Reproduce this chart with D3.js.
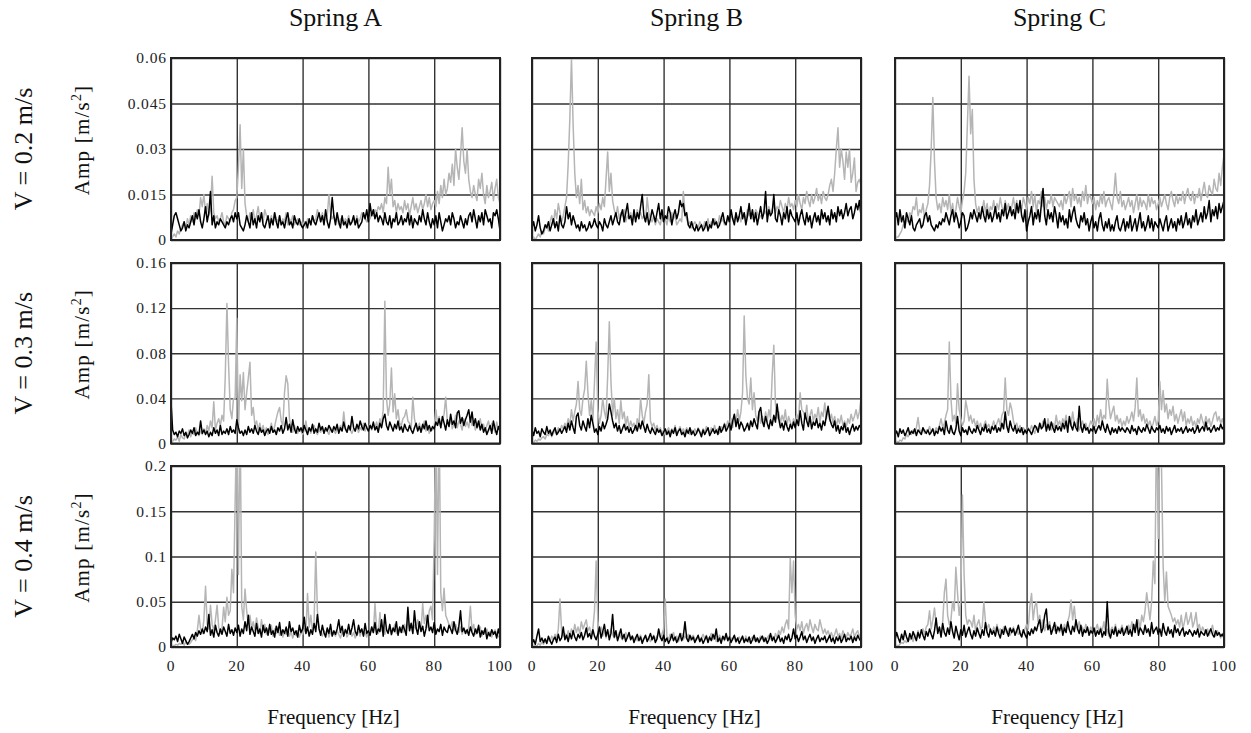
<!DOCTYPE html>
<html><head><meta charset="utf-8">
<script src="https://cdn.jsdelivr.net/npm/d3@7"></script>
<style>body{margin:0;background:#fff}svg{display:block}</style>
</head><body>
<script>
// ---- DATA (amplitudes in units of 0.001 m/s^2, sampled every 0.5 Hz from 0 to 100 Hz) ----
const springs = ["Spring A", "Spring B", "Spring C"];
const speeds = ["V = 0.2 m/s", "V = 0.3 m/s", "V = 0.4 m/s"];
const xTicks = [0, 20, 40, 60, 80, 100];
const yMaxes = [60, 160, 200];
const yTicks = [[0, 15, 30, 45, 60], [0, 40, 80, 120, 160], [0, 50, 100, 150, 200]];
const yTickLabels = [["0", "0.015", "0.03", "0.045", "0.06"], ["0", "0.04", "0.08", "0.12", "0.16"], ["0", "0.05", "0.1", "0.15", "0.2"]];
const freqStep = 0.5;

// Row 1 (V = 0.2 m/s)
const a1Black = [2,5,8,9,7,5,3,4,6,3,5,4,6,8,5,9,7,10,6,4, 7,11,6,9,16,5,8,4,6,5,7,6,5,4,6,5,7,8,6,9, 7,9,5,4,3,5,8,6,4,9,5,7,4,8,6,9,5,4,6,8, 4,7,5,9,6,4,8,5,6,4,7,9,5,6,4,8,6,5,7,5, 4,5,6,4,7,5,8,6,5,7,9,6,8,5,10,6,4,7,14,8, 5,9,6,4,8,5,6,4,7,5,6,8,5,7,4,5,6,9,7,10, 6,12,8,10,7,9,6,8,7,5,9,6,5,8,4,7,6,9,5,6, 8,5,7,6,9,5,8,4,7,6,5,8,6,10,7,5,9,6,4,7, 5,8,4,9,6,3,5,7,6,8,5,9,7,4,6,5,8,6,4,7, 5,8,9,6,10,7,4,8,6,9,5,10,8,6,7,4,9,8,10,7,3];
const a1Gray = [0,1,2,1,3,2,4,5,6,4,7,5,8,6,9,7,10,8,14,11, 15,9,12,8,10,21,9,7,8,6,7,9,6,5,8,7,6,9,10,13, 14,24,38,17,30,12,8,6,9,7,10,6,8,11,7,9,6,10,8,7, 6,8,5,9,7,6,8,5,7,6,9,5,7,6,8,5,6,7,5,6, 5,6,4,7,6,5,8,6,7,10,8,6,9,6,7,8,15,9,7,8, 6,8,5,7,6,5,7,6,8,5,6,7,5,8,6,7,9,8,7,6, 8,7,9,8,10,9,11,10,12,9,14,12,24,15,20,11,13,9,12,10, 11,9,13,10,12,8,11,14,10,12,9,11,13,10,12,15,11,14,10,12, 13,11,16,12,18,14,20,15,17,22,19,25,18,30,24,20,28,37,26,22, 30,20,16,14,18,15,13,20,17,22,15,12,18,14,16,19,13,17,20,14,12];
const b1Black = [4,6,3,5,8,4,2,3,5,4,6,3,5,7,4,6,3,8,5,4, 6,11,7,9,5,8,6,4,5,3,6,4,5,3,4,6,4,5,7,5, 4,6,5,3,7,5,4,6,8,5,7,9,6,5,8,10,6,9,12,7, 8,5,10,6,9,7,11,15,8,6,9,5,7,10,8,6,9,12,7,10, 6,8,7,11,9,5,8,10,7,9,13,11,12,8,9,5,4,6,4,3, 5,3,4,5,3,4,6,3,5,4,7,5,6,4,5,7,9,6,5,8, 6,10,7,5,9,6,8,11,7,9,5,8,12,7,10,6,9,5,8,11, 7,9,16,6,10,8,9,15,7,6,10,8,5,9,7,11,6,10,8,7, 6,9,5,8,10,7,5,9,6,8,4,7,9,6,8,5,10,7,9,6, 8,5,10,7,9,6,11,8,10,7,9,12,8,10,11,7,9,12,10,13,8];
const b1Gray = [0,1,0,1,2,1,3,2,4,5,3,6,8,5,10,7,12,9,6,8, 11,14,25,40,60,38,22,14,18,12,20,10,13,9,11,8,10,9,8,11, 9,12,10,14,11,20,29,16,22,13,10,8,11,7,9,8,10,6,8,7, 9,6,8,7,10,8,9,7,8,6,14,9,7,6,8,5,7,6,5,8, 6,7,5,8,6,9,7,8,5,6,7,6,16,9,7,5,6,4,5,6, 5,4,6,5,4,6,5,7,4,6,5,7,6,5,8,6,7,5,6,7, 6,8,7,6,9,7,8,6,9,8,7,10,8,9,7,8,10,9,7,8, 8,10,9,8,11,9,10,12,9,11,10,13,11,9,12,10,14,11,12,10, 13,11,15,12,10,14,12,16,13,11,15,12,14,17,13,15,12,16,14,13, 15,18,20,16,22,30,37,24,30,26,20,29,24,30,19,22,27,16,19,20,18];
const c1Black = [7,9,5,10,6,8,4,9,7,5,8,4,3,5,6,7,4,5,8,9, 6,8,5,4,3,5,4,6,5,7,6,9,7,5,8,10,6,9,7,4, 6,9,8,3,4,6,9,7,10,8,6,9,7,11,8,6,10,7,9,6, 8,11,7,9,6,10,8,12,7,9,11,8,10,7,12,9,13,8,6,10, 3,6,8,11,5,9,7,10,6,12,17,8,5,10,7,9,6,11,8,4, 9,6,8,5,7,4,10,6,9,11,7,5,4,8,6,9,5,7,3,6, 8,4,6,3,7,9,5,3,6,4,7,3,5,3,6,8,4,3,5,7, 3,6,4,8,3,5,7,3,6,9,4,6,3,5,8,4,7,3,6,5, 4,7,5,3,6,8,3,5,7,4,6,3,7,5,8,4,6,9,5,7, 4,8,6,10,5,7,9,6,11,7,9,13,6,10,8,11,7,12,9,11,13];
const c1Gray = [0,1,1,2,3,5,4,7,6,9,8,11,10,14,8,10,9,12,7,10, 12,18,30,47,26,14,10,12,9,14,11,13,10,15,9,12,8,10,14,11, 9,13,16,22,38,54,35,43,20,12,9,11,8,10,13,9,12,8,11,10, 13,9,12,10,14,11,9,13,10,12,9,11,14,10,13,9,12,10,14,12, 10,14,12,16,11,15,9,13,12,16,11,14,10,13,12,15,11,14,13,12, 11,13,10,15,12,14,16,11,17,13,15,12,14,11,16,13,18,12,15,14, 12,14,10,13,11,15,12,16,11,13,14,12,10,15,22,14,12,16,11,13, 10,12,14,11,13,9,12,15,10,14,11,13,12,10,15,11,14,12,13,10, 12,14,11,13,15,12,10,14,16,13,11,15,12,14,13,16,12,15,17,14, 13,16,12,15,14,17,13,16,19,15,14,18,16,15,20,17,16,22,18,24,28];

// Row 2 (V = 0.3 m/s)
const a2Black = [37,12,8,10,6,11,9,13,7,10,5,8,12,9,14,7,10,8,20,9, 12,8,11,6,10,7,14,9,12,7,16,8,11,9,13,8,15,10,12,9, 21,14,9,11,7,12,8,15,10,13,9,16,11,8,14,10,12,7,11,13, 9,15,10,12,8,14,11,16,9,13,23,12,17,10,21,13,9,15,11,14, 10,16,12,8,14,11,17,9,13,10,18,12,15,9,14,11,16,13,10,15, 12,17,9,14,11,19,13,10,16,12,24,14,11,17,13,20,15,12,18,14, 11,16,13,19,12,15,10,18,14,22,26,16,12,19,15,11,17,13,20,12, 15,10,17,13,11,16,12,9,14,18,11,15,10,17,13,20,12,16,11,15, 13,19,16,22,14,24,18,12,21,15,26,17,20,14,27,29,18,23,16,21, 25,30,19,28,16,22,14,20,12,17,10,14,8,12,16,9,20,13,8,15,11];
const a2Gray = [0,2,4,3,6,2,8,5,4,9,7,12,6,10,8,14,9,7,11,8, 13,9,16,11,20,14,37,12,18,22,16,25,20,60,124,70,30,22,40,40, 111,10,61,38,63,30,45,58,72,25,32,16,20,12,18,10,16,9,14,8, 12,18,10,15,22,28,32,20,16,45,60,53,22,14,10,16,12,9,13,11, 8,12,20,10,14,9,13,16,11,8,12,10,15,9,13,11,8,14,10,12, 9,13,11,16,12,28,14,10,15,12,9,13,11,16,10,14,12,18,11,15, 13,17,12,16,14,19,13,22,16,30,126,40,25,35,67,28,44,22,30,18, 16,22,24,30,20,18,13,41,22,15,12,18,10,14,20,11,16,9,13,12, 15,30,18,24,14,20,26,41,19,16,22,13,18,25,14,20,17,12,22,15, 19,14,23,16,20,12,18,15,22,13,17,11,16,20,12,18,14,10,19,13,15];
const b2Black = [12,7,14,9,11,6,13,10,8,15,9,12,7,11,14,8,10,13,9,12, 15,10,18,12,20,14,9,24,27,16,12,20,15,11,22,14,25,18,10,13, 8,15,11,19,13,17,22,35,28,20,14,18,11,16,9,13,17,12,15,10, 14,9,12,16,11,18,13,20,15,10,17,12,9,14,11,8,13,10,12,7, 10,13,8,11,6,12,9,14,7,11,13,8,10,6,12,9,14,8,11,7, 9,13,10,6,12,8,11,14,7,10,13,9,12,8,15,10,13,17,11,14, 18,12,20,26,15,22,13,19,16,11,14,18,12,20,15,22,17,13,28,32, 20,15,24,18,13,21,16,25,19,35,22,14,18,12,20,15,11,17,13,19, 14,21,16,29,18,12,27,20,15,24,13,19,16,22,14,18,12,20,16,25, 33,22,17,14,20,11,16,9,15,12,18,10,14,8,13,17,11,15,12,16,14];
const b2Gray = [0,1,3,2,4,3,5,6,4,8,7,10,6,9,12,8,14,11,16,13, 18,14,22,16,30,20,28,35,55,30,25,40,48,73,45,25,38,20,55,90, 30,18,25,40,28,22,60,108,55,25,40,22,30,18,38,22,28,16,24,14, 20,15,18,12,22,16,40,25,18,28,35,61,20,15,18,12,16,10,14,9, 12,8,11,14,9,13,10,16,8,12,15,10,13,9,14,11,8,12,10,13, 9,14,11,8,13,10,15,12,9,14,11,16,10,13,9,15,12,18,14,20, 16,22,14,25,18,30,20,28,45,113,60,40,35,58,30,45,25,20,28,18, 24,18,28,20,30,22,60,87,35,22,28,18,25,20,30,16,24,19,14,22, 18,26,20,45,30,28,22,34,18,25,30,20,26,22,32,19,28,24,36,22, 30,20,26,18,24,15,22,18,25,16,20,14,22,18,26,20,24,30,22,28,40];
const c2Black = [8,11,6,13,9,12,7,10,14,8,11,9,13,7,12,10,8,14,11,9, 12,8,10,13,7,11,9,15,11,14,8,20,12,9,16,10,8,13,24,11, 7,14,10,12,8,15,11,9,13,10,16,12,8,14,11,17,10,13,9,15, 12,16,10,14,11,18,13,28,15,10,20,14,11,16,9,13,10,14,8,12, 9,13,11,8,12,16,14,10,18,13,15,22,11,17,12,19,14,10,16,12, 15,11,18,13,20,10,24,16,12,19,14,11,33,15,10,17,12,14,9,13, 11,15,9,13,16,12,20,14,10,17,12,8,14,10,13,9,15,11,14,12, 10,14,12,9,16,11,13,8,15,12,10,14,11,17,13,9,15,12,10,14, 12,16,10,13,9,15,11,14,8,12,16,10,13,11,14,9,12,15,10,13, 11,14,9,12,16,10,13,15,11,19,12,14,10,13,16,11,14,12,17,13,15];
const c2Gray = [0,2,1,3,2,5,4,8,6,10,8,12,9,14,23,12,10,14,9,12, 11,15,10,13,9,14,12,16,22,14,18,25,30,90,40,20,25,18,53,30, 22,16,20,38,30,20,25,18,22,15,20,14,18,12,16,20,14,17,12,15, 20,14,18,22,16,25,28,58,30,25,36,30,20,15,18,12,16,10,14,12, 10,14,11,16,12,9,15,12,18,14,20,16,13,22,15,12,18,14,25,16, 20,15,22,18,25,14,20,16,28,18,15,22,12,16,20,14,18,12,15,20, 17,22,15,25,18,30,20,25,22,57,35,22,28,33,20,25,18,22,15,20, 16,24,18,22,28,20,32,58,24,30,20,26,18,22,16,20,14,18,24,16, 20,55,30,47,28,35,22,30,25,33,20,26,18,24,30,20,28,16,22,18, 24,16,20,14,22,18,26,20,16,24,18,22,15,20,26,28,20,24,18,22,16];

// Row 3 (V = 0.4 m/s)
const a3Black = [5,10,8,12,6,14,9,4,11,7,3,6,10,14,9,16,12,18,14,20, 15,22,17,36,13,19,11,24,16,12,20,14,22,17,12,25,15,19,13,21, 16,24,12,20,15,28,18,35,14,22,17,12,26,15,20,11,24,16,21,13, 25,14,18,11,23,16,27,13,19,15,22,12,28,17,21,14,18,11,24,16, 20,33,15,22,12,19,14,26,17,36,20,13,24,16,11,21,15,25,12,18, 14,20,30,16,23,12,19,15,25,14,21,30,17,13,24,16,20,12,26,15, 18,13,22,16,27,14,20,17,30,12,36,19,15,25,14,21,17,28,13,22, 16,24,19,13,44,18,26,15,40,21,14,28,17,23,12,20,35,18,22,16, 27,14,20,17,25,13,22,18,16,24,20,15,28,19,14,23,40,17,21,15, 19,13,22,16,12,20,15,24,11,18,14,21,9,16,12,19,14,17,10,20,12];
const a3Gray = [0,2,1,3,2,4,3,5,2,6,4,3,5,8,10,7,18,35,20,15, 30,67,25,20,46,25,18,30,46,22,15,20,44,28,55,35,40,86,60,160, 260,80,260,45,30,64,40,25,35,20,28,18,32,22,15,30,18,25,14,20, 16,24,12,20,15,22,13,18,11,16,14,20,12,17,10,15,13,18,11,16, 14,20,15,59,22,35,18,28,105,40,20,16,12,18,14,20,11,17,13,15, 12,18,14,10,16,13,20,11,15,18,12,16,10,14,17,12,19,13,16,11, 18,14,22,16,48,20,15,38,18,24,14,20,16,22,13,18,25,15,20,17, 22,16,25,18,30,20,27,15,24,20,30,22,18,48,26,35,22,40,45,30, 120,260,80,260,60,40,65,35,30,25,22,28,18,25,20,16,22,14,20,18, 15,22,45,18,25,14,20,16,22,12,18,15,20,13,17,11,16,19,14,12,10];
const b3Black = [4,8,3,12,20,6,10,5,9,4,12,7,3,8,11,5,14,7,10,22, 8,13,6,15,9,18,11,7,14,10,16,8,13,21,11,15,9,19,12,8, 14,22,10,17,25,12,19,8,15,36,11,18,7,13,20,9,14,6,11,16, 8,12,5,10,14,7,11,4,9,13,6,10,15,8,12,5,9,20,11,7, 13,6,10,4,8,14,7,11,5,9,15,7,12,28,10,6,13,8,11,5, 9,13,6,10,4,8,12,5,11,7,14,9,20,6,10,4,12,8,15,7, 11,5,9,13,6,10,4,8,12,5,9,6,11,4,8,13,6,10,5,9, 12,6,10,4,8,15,7,11,5,9,13,6,10,4,12,8,14,6,10,20, 9,13,6,11,17,8,12,5,10,14,7,11,4,9,13,6,10,8,12,5, 9,13,6,10,4,11,7,12,5,9,14,6,10,8,12,5,11,7,13,9,6];
const b3Gray = [0,1,2,1,4,2,5,3,7,4,9,6,12,8,14,10,20,53,18,12, 15,10,18,12,20,14,25,16,22,15,28,20,25,30,18,22,14,20,40,95, 30,15,22,12,18,10,16,12,20,14,10,13,9,16,11,8,12,16,10,14, 9,12,8,11,7,10,13,6,9,12,8,11,6,10,13,8,12,15,10,14, 20,53,12,8,14,10,16,8,12,6,10,15,8,12,9,14,7,11,13,9, 8,12,6,10,14,9,13,7,11,15,8,12,6,10,13,8,11,7,12,9, 6,10,8,12,5,9,11,7,10,6,12,8,5,9,11,7,10,6,9,12, 8,11,6,10,13,9,12,8,15,10,18,14,22,16,25,30,20,98,60,95, 35,20,25,18,28,15,22,26,18,30,22,16,25,20,18,30,22,15,20,14, 18,12,16,10,14,20,12,15,9,18,13,10,16,12,14,20,11,15,18,12,14];
const c3Black = [8,16,10,5,14,8,18,11,6,15,9,17,12,7,16,10,19,13,8,17, 12,20,14,9,18,32,15,22,11,26,16,12,21,14,28,17,10,23,15,8, 19,13,24,11,17,22,14,9,18,12,21,15,10,19,13,27,16,11,20,14, 18,12,22,15,10,19,14,23,17,12,21,16,20,13,18,24,15,11,19,14, 10,17,13,20,15,22,18,25,30,16,21,35,42,19,24,14,20,27,15,22, 18,25,13,21,16,28,19,14,23,17,30,20,15,24,12,19,16,22,13,18, 15,21,12,18,14,20,11,17,13,50,16,10,19,14,22,12,18,15,21,13, 17,23,14,19,12,25,16,30,13,21,18,14,24,16,20,12,27,15,19,22, 14,20,12,26,17,13,22,15,19,11,24,16,20,13,18,21,12,17,14,19, 16,12,18,14,20,11,17,15,13,19,12,16,20,14,11,18,13,16,12,14,10];
const c3Gray = [0,2,1,3,5,4,7,5,9,8,11,6,14,10,18,12,16,20,14,22, 25,40,20,30,43,25,18,22,15,28,60,75,35,25,30,50,40,88,60,35, 50,168,80,35,25,30,28,22,35,18,25,30,20,22,50,28,20,25,18,15, 22,18,25,16,20,14,22,18,15,20,13,17,22,15,19,14,18,12,16,20, 25,20,45,59,30,45,50,28,35,22,30,18,25,20,28,16,22,18,24,20, 16,22,18,25,20,28,35,52,30,45,25,20,28,18,22,16,25,20,15,22, 18,14,20,25,16,22,18,28,15,20,12,18,22,16,25,14,20,18,24,16, 20,15,24,18,28,20,25,22,30,20,35,28,40,60,45,30,50,95,70,260, 120,260,200,90,50,83,45,40,35,28,32,25,30,22,35,20,28,38,25,30, 38,22,28,38,20,25,16,22,18,15,20,13,18,24,15,12,18,14,10,15,12];

const panelData = [
  [[a1Gray, a1Black], [b1Gray, b1Black], [c1Gray, c1Black]],
  [[a2Gray, a2Black], [b2Gray, b2Black], [c2Gray, c2Black]],
  [[a3Gray, a3Black], [b3Gray, b3Black], [c3Gray, c3Black]]
];

// ---- LAYOUT ----
const W = 1251, H = 733;
const colX = [[171, 500], [532, 861], [895, 1224]];
const rowY = [[58, 240], [263, 443.5], [466, 647]];
const serif = "'Liberation Serif', 'Times New Roman', serif";
const grayColor = "#b5b5b5", gridColor = "#333", frameColor = "#222";

const svg = d3.select("body").append("svg").attr("width", W).attr("height", H);
const defs = svg.append("defs");

function addText(parent, txt, size, opts) {
  const t = parent.append("text").text(txt)
    .attr("font-family", serif).attr("font-size", size).attr("fill", "#111");
  Object.entries(opts || {}).forEach(([k, v]) => t.attr(k, v));
  return t;
}

springs.forEach((s, c) => {
  addText(svg, s, 26, {x: (colX[c][0] + colX[c][1]) / 2, y: 26, "text-anchor": "middle"});
  addText(svg, "Frequency [Hz]", 21, {x: (colX[c][0] + colX[c][1]) / 2 - 2, y: 724, "text-anchor": "middle"});
});

speeds.forEach((v, r) => {
  const cy = (rowY[r][0] + rowY[r][1]) / 2;
  addText(svg, v, 26, {transform: `translate(32,${cy}) rotate(-90)`, "text-anchor": "middle"});
  const amp = svg.append("text").attr("transform", `translate(89,${cy - 9}) rotate(-90)`)
    .attr("text-anchor", "middle").attr("font-family", serif).attr("font-size", 21)
    .attr("letter-spacing", 1.2).attr("fill", "#111");
  amp.append("tspan").text("Amp [m/s");
  amp.append("tspan").attr("font-size", 14).attr("dy", -8).text("2");
  amp.append("tspan").attr("dy", 8).text("]");
});

for (let r = 0; r < 3; r++) {
  for (let c = 0; c < 3; c++) {
    const [x0, x1] = colX[c], [y0, y1] = rowY[r];
    const x = d3.scaleLinear().domain([0, 100]).range([x0, x1]);
    const y = d3.scaleLinear().domain([0, yMaxes[r]]).range([y1, y0]);
    const g = svg.append("g");
    const clipId = `clip-${r}-${c}`;
    defs.append("clipPath").attr("id", clipId).append("rect")
      .attr("x", x0).attr("y", y0).attr("width", x1 - x0).attr("height", y1 - y0);

    // grid lines via axes
    const ga = g.append("g").attr("transform", `translate(${x0},0)`)
      .call(d3.axisLeft(y).tickValues(yTicks[r]).tickSize(-(x1 - x0)).tickFormat(""));
    ga.select(".domain").remove();
    ga.selectAll("line").attr("stroke", gridColor).attr("stroke-width", 1.4);

    const gx = g.append("g").attr("transform", `translate(0,${y1})`)
      .call(d3.axisBottom(x).tickValues(xTicks).tickSize(-(y1 - y0)).tickFormat(""));
    gx.select(".domain").remove();
    gx.selectAll("line").attr("stroke", gridColor).attr("stroke-width", 1.4);

    // tick labels
    if (c === 0) {
      yTicks[r].forEach((t, i) => {
        addText(svg, yTickLabels[r][i], 15.5, {x: x0 - 4, y: y(t), dy: "0.34em", "text-anchor": "end", "letter-spacing": 0.9, fill: "#222"});
      });
    }
    if (r === 2) {
      xTicks.forEach(t => {
        addText(svg, String(t), 15.5, {x: x(t), y: y1 + 24, "text-anchor": "middle", "letter-spacing": 0.9, fill: "#222"});
      });
    }

    // series
    const line = d3.line().x((d, i) => x(i * freqStep)).y(d => y(d));
    const [grayVals, blackVals] = panelData[r][c];
    const lg = g.append("g").attr("clip-path", `url(#${clipId})`);
    lg.append("path").datum(grayVals).attr("d", line).attr("fill", "none")
      .attr("stroke", grayColor).attr("stroke-width", 1.5).attr("stroke-linejoin", "round");
    lg.append("path").datum(blackVals).attr("d", line).attr("fill", "none")
      .attr("stroke", "#000").attr("stroke-width", 1.5).attr("stroke-linejoin", "round");

    // frame
    g.append("rect").attr("x", x0).attr("y", y0).attr("width", x1 - x0).attr("height", y1 - y0)
      .attr("fill", "none").attr("stroke", frameColor).attr("stroke-width", 2);
  }
}
</script>
</body></html>
